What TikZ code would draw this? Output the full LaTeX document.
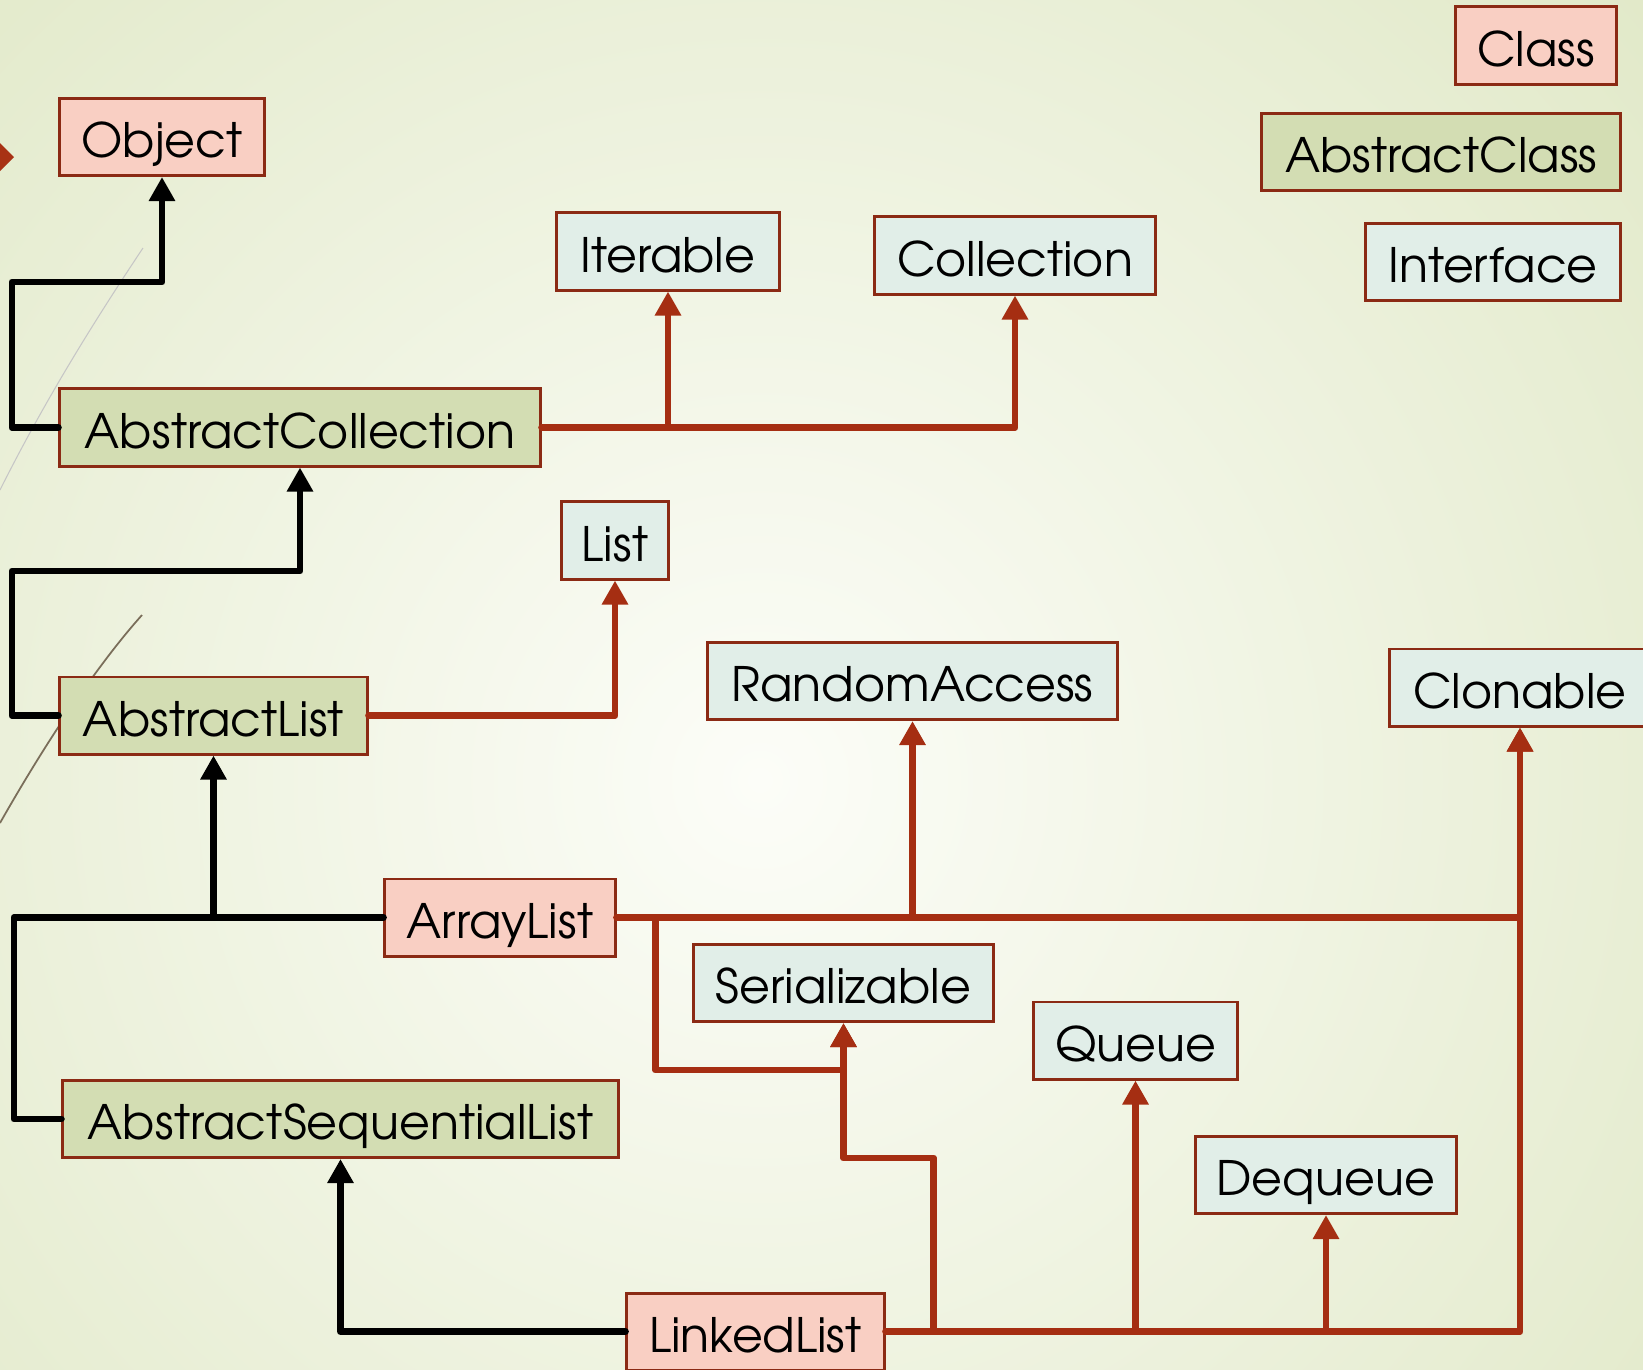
\documentclass[tikz,border=0pt]{standalone}
\usepackage{fontspec}
\setmainfont{TeX Gyre Adventor}
\usetikzlibrary{arrows.meta,calc}
\definecolor{bgin}{HTML}{FCFDF8}
\definecolor{bgout}{HTML}{D8E2B8}
\definecolor{boxline}{HTML}{8B2A14}
\definecolor{clsfill}{HTML}{F9CFC3}
\definecolor{absfill}{HTML}{D3DDB3}
\definecolor{ifcfill}{HTML}{E1EEE8}
\definecolor{implred}{HTML}{A52E12}
\definecolor{bulletred}{HTML}{A83214}
\definecolor{deco}{HTML}{7A6E5A}
\tikzset{
 box/.style={draw=boxline, line width=0.85pt, minimum height=0.77cm, inner sep=0pt,
   text height=0.45cm, text depth=0.04cm, font=\fontsize{13.5}{16}\selectfont, text=black},
 clsbox/.style={box, fill=clsfill},
 absbox/.style={box, fill=absfill},
 ifcbox/.style={box, fill=ifcfill},
 gen/.style={draw=black, line width=1.95pt, line cap=round, line join=round,
   -{Triangle[width=0.25cm,length=0.24cm]}},
 impl/.style={gen, draw=implred},
}
\begin{document}
\begin{tikzpicture}[x=0.01cm,y=-0.01cm]
\useasboundingbox (0,0) rectangle (1643,1369);
\begin{scope}
\clip (0,0) rectangle (1643,1369);
\shade[inner color=bgin, outer color=bgout] (760,780) circle (16cm);
% decorative background lines
\draw[line width=0.3pt, color=gray!45] (143,248) .. controls (95,320) and (45,400) .. (0,490);
\draw[line width=0.5pt, color=deco] (142,615) .. controls (100,662) and (50,735) .. (0,823);
\fill[bulletred] (14,157) -- (-1,142) -- (-16,157) -- (-1,172) -- cycle;

% legend
\node[clsbox, minimum width=1.60cm] (lclass) at (1536,45.5) {Class};
\node[absbox, minimum width=3.58cm] (labs) at (1441,152) {AbstractClass};
\node[ifcbox, minimum width=2.54cm] (lifc) at (1493,262) {Interface};

% nodes
\node[clsbox, minimum width=2.04cm] (obj) at (162,137) {Object};
\node[ifcbox, minimum width=2.22cm] (iter) at (668,251.5) {Iterable};
\node[ifcbox, minimum width=2.80cm] (coll) at (1015,255.5) {Collection};
\node[absbox, minimum width=4.80cm] (acoll) at (300,427.5) {AbstractCollection};
\node[ifcbox, minimum width=1.06cm] (list) at (615,540.5) {List};
\node[ifcbox, minimum width=4.09cm] (ra) at (912.5,681) {RandomAccess};
\node[ifcbox, minimum width=2.60cm] (clon) at (1520,687.5) {Clonable};
\node[absbox, minimum width=3.07cm] (alist) at (213.5,715.5) {AbstractList};
\node[clsbox, minimum width=2.30cm] (arr) at (500,917.5) {ArrayList};
\node[ifcbox, minimum width=2.99cm] (ser) at (843.5,983) {Serializable};
\node[ifcbox, minimum width=2.03cm] (que) at (1135.5,1040.5) {Queue};
\node[ifcbox, minimum width=2.60cm] (deq) at (1326,1175) {Dequeue};
\node[absbox, minimum width=5.55cm] (asl) at (340.5,1119) {AbstractSequentialList};
\node[clsbox, minimum width=2.57cm] (ll) at (755.5,1331.5) {LinkedList};

% generalisation (black)
\draw[gen] (acoll.west) -| (12,282) -| (obj.south);
\draw[gen] (alist.west) -| (12,571) -| (acoll.south);
\draw[gen, -] (arr.west) -| (14,1119) -- (asl.west);
\draw[gen] (arr.west -| alist.south) -- (alist.south);
\draw[gen] (ll.west) -| (asl.south);

% implementation (red)
\draw[impl] (acoll.east) -| (coll.south);
\draw[impl] (acoll.east -| iter.south) -- (iter.south);
\draw[impl] (alist.east) -| (list.south);
\draw[impl] (arr.east) -| (clon.south);
\draw[impl] (arr.east -| ra.south) -- (ra.south);
\coordinate (j1) at ($(arr.east)+(39,0)$);
\draw[impl] (j1) |- ($(ser.south)+(0,47)$) -- (ser.south);
\draw[impl] (ll.east) -| (clon.south);
\draw[impl] (ll.east -| que.south) -- (que.south);
\draw[impl] (ll.east -| deq.south) -- (deq.south);
\coordinate (j2) at ($(ll.east)+(48,0)$);
\draw[impl] (j2) |- ($(ser.south)+(0,135)$) -- (ser.south);
\end{scope}
\end{tikzpicture}
\end{document}
